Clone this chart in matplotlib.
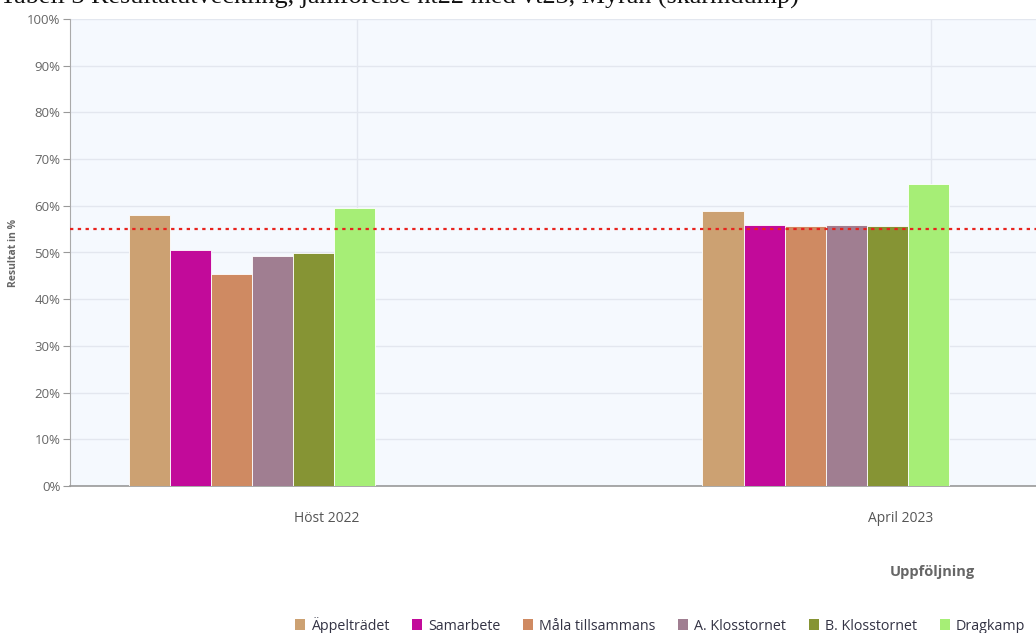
import numpy as np
import matplotlib.pyplot as plt
import matplotlib.transforms as mtransforms
from matplotlib.patches import Patch

# Data
categories = ['Höst 2022', 'April 2023']
series_names = ['Äppelträdet', 'Samarbete', 'Måla tillsammans', 'A. Klosstornet',
                'B. Klosstornet', 'Dragkamp']
series_colors = ['#cca172', '#c20a9a', '#cf8a62', '#a07e91', '#869434', '#a6ee76']
values_host22 = [58.0, 50.5, 45.4, 49.3, 49.9, 59.5]
values_april23 = [58.9, 55.9, 55.7, 55.9, 55.7, 64.7]
target_line = 55.0

plt.rcParams['font.family'] = ['Open Sans', 'DejaVu Sans']

fig = plt.figure(figsize=(10.36, 6.33), dpi=100)
W, H = 1036, 633
ax = fig.add_axes([70 / W, (H - 486) / H, (W - 70) / W, (486 - 19) / H])
ax.set_facecolor('#f5f9fe')

x = np.arange(len(categories))
bar_w = 0.0716
start = -0.398
for i, (name, col) in enumerate(zip(series_names, series_colors)):
    vals = [values_host22[i], values_april23[i]]
    ax.bar(x + start + i * bar_w, vals, width=bar_w, align='edge', color=col,
           edgecolor='white', linewidth=0.6, zorder=3, label=name)

ax.axhline(target_line, color='#e8231e', linestyle=(0, (1.5, 2)), linewidth=1.6, zorder=4)

ax.set_ylim(0, 100)
ax.set_xlim(-0.5, 1 + 105 / 573)
ax.set_yticks(np.arange(0, 101, 10))
ax.set_yticklabels([f'{v}%' for v in range(0, 101, 10)], color='#666666', fontsize=9.5)
ax.set_xticks(x)
ax.set_xticklabels(categories, color='#555555', fontsize=10)
ax.tick_params(axis='x', length=0, pad=18)
ax.tick_params(axis='y', length=5, width=0.8, color='#999999', pad=2)

# category labels sit a bit left of the category centre in the original
shift = mtransforms.ScaledTranslation(-30 / 100, 0, fig.dpi_scale_trans)
for lbl in ax.get_xticklabels():
    lbl.set_transform(lbl.get_transform() + shift)

ax.grid(True, color='#e3e7ef', linewidth=1, zorder=0)
for s in ['top', 'right']:
    ax.spines[s].set_visible(False)
ax.spines['left'].set_color('#aaaaaa')
ax.spines['bottom'].set_color('#999999')
ax.spines['bottom'].set_linewidth(1.2)

ax.set_ylabel('Resultat in %', fontsize=7.5, fontweight='bold', color='#666666', labelpad=6)

fig.text(932 / W, 1 - 572 / H, 'Uppföljning', fontsize=10.5, fontweight='bold',
         color='#666666', ha='center', va='center')

handles = [Patch(facecolor=c, edgecolor='none') for c in series_colors]
fig.legend(handles, series_names, loc='center', bbox_to_anchor=(660 / W, 1 - 625 / H),
           ncol=6, frameon=False, fontsize=10.3, handlelength=0.7, handleheight=0.7,
           handletextpad=0.4, columnspacing=1.6, labelcolor='#333344')

fig.text(0, 1 - 4 / H, 'Tabell 3 Resultatutveckling, jämförelse ht22 med vt23, Myran (skärmdump)',
         family='Liberation Serif', fontsize=18.8, color='#111111', ha='left', va='baseline')

fig.savefig('out.png', dpi=100)
